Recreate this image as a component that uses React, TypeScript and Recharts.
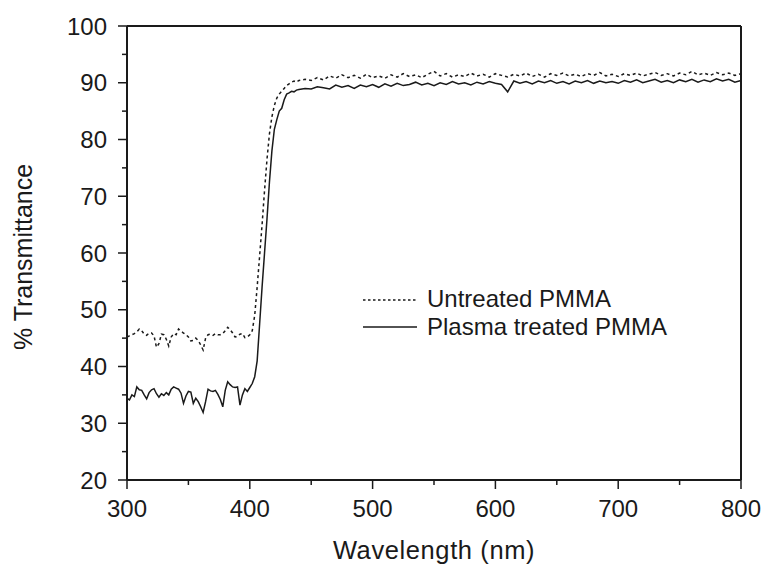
import { LineChart, Line, XAxis, YAxis, ReferenceLine, Label } from "recharts";

// wavelength grid (nm): 2 nm steps through the edge, 5 nm steps after
const wavelengths = [
  300, 302, 304, 306, 308, 310, 312, 314, 316, 318,
  320, 322, 324, 326, 328, 330, 332, 334, 336, 338,
  340, 342, 344, 346, 348, 350, 352, 354, 356, 358,
  360, 362, 364, 366, 368, 370, 372, 374, 376, 378,
  380, 382, 384, 386, 388, 390, 392, 394, 396, 398,
  400, 402, 404, 406, 408, 410, 412, 414, 416, 418,
  420, 422, 424, 426, 428, 430, 432, 434, 436, 438,
  440,
  445, 450, 455, 460, 465, 470, 475, 480, 485, 490,
  495, 500, 505, 510, 515, 520, 525, 530, 535, 540,
  545, 550, 555, 560, 565, 570, 575, 580, 585, 590,
  595, 600, 605, 610, 615, 620, 625, 630, 635, 640,
  645, 650, 655, 660, 665, 670, 675, 680, 685, 690,
  695, 700, 705, 710, 715, 720, 725, 730, 735, 740,
  745, 750, 755, 760, 765, 770, 775, 780, 785, 790,
  795, 800,
];

const untreated = [
  45.2, 45.4, 45.6, 45.8, 46.1, 46.6, 46.3, 45.7, 45.5, 45.9,
  45.9, 45.4, 43.4, 44.0, 45.7, 45.6, 44.8, 43.6, 45.2, 45.8,
  45.6, 46.6, 46.2, 45.9, 45.6, 45.2, 44.5, 44.6, 45.0, 44.6,
  43.8, 42.9, 45.0, 45.6, 45.7, 45.5, 45.8, 45.6, 45.6, 45.8,
  46.3, 46.9, 46.5, 45.9, 45.2, 45.3, 45.7, 45.8, 45.1, 45.2,
  45.6, 46.3, 49.0, 54.0, 59.5, 65.0, 71.0, 76.5, 81.0, 84.0,
  86.0, 87.3, 88.0, 88.5, 89.0, 89.5, 89.8, 90.1, 90.3, 90.1,
  90.4,
  90.6, 90.4, 90.9, 90.5, 91.2, 90.8, 91.4, 90.9, 91.3, 90.8,
  91.5, 90.9, 91.2, 90.8, 91.4, 91.0, 91.6, 91.1, 91.4, 90.9,
  91.5, 92.0, 91.2, 91.6, 91.0, 91.4, 91.1, 91.7, 91.2, 91.5,
  91.0, 91.6, 91.3, 91.0, 91.5, 91.2, 91.7, 91.1, 91.5, 91.0,
  91.6, 91.3, 91.7, 91.2, 91.5, 91.1, 91.6, 91.3, 91.8, 91.2,
  91.5, 91.1, 91.6, 91.3, 91.7, 91.2, 91.5, 91.8, 91.3, 91.6,
  91.2, 91.7, 91.4, 92.0, 91.4, 91.7, 91.3, 91.8, 91.4, 91.7,
  91.3, 91.6,
];

const plasma = [
  34.4, 34.1, 35.0, 34.7, 36.4, 35.9, 35.8, 35.0, 34.3, 35.4,
  35.9, 36.1, 35.2, 34.6, 35.2, 34.9, 35.4, 35.0, 36.0, 36.4,
  36.2, 36.0, 35.3, 33.5, 34.8, 35.6, 35.5, 33.5, 34.4, 33.8,
  32.9, 31.9, 33.8, 36.0, 35.7, 35.6, 35.8, 35.1, 34.2, 32.9,
  35.8, 37.3, 36.8, 36.4, 36.3, 36.4, 33.2, 35.0, 36.1, 35.6,
  36.3, 37.0, 38.2, 41.0, 47.5, 54.0, 60.0, 66.0, 72.5, 78.0,
  81.8, 83.5, 85.0, 85.5, 87.0, 88.0, 88.2, 88.5, 88.4, 88.7,
  88.8,
  89.0, 88.9, 89.3, 89.1, 88.9, 89.6, 89.2, 89.5, 89.0, 89.6,
  89.3, 89.7, 89.2, 89.8, 89.4, 89.9, 89.5, 89.7, 90.1, 89.6,
  89.9, 89.5, 90.0, 89.7, 90.2, 89.8, 90.0, 89.6, 90.1, 89.8,
  90.2, 89.9, 89.7, 88.4, 90.3, 89.9, 90.2, 89.8, 90.3, 90.0,
  90.4, 89.9, 90.2, 89.8, 90.3, 90.0, 90.4, 89.9, 90.3, 90.0,
  90.2, 89.9, 90.4, 90.1, 90.5, 90.0, 90.3, 90.6, 90.1, 90.4,
  90.0, 90.5, 90.2, 90.6, 90.1, 90.5, 90.2, 90.7, 90.3, 90.6,
  90.1, 90.4,
];

const xTicks = [300, 350, 400, 450, 500, 550, 600, 650, 700, 750, 800];
const yTicks = [20, 25, 30, 35, 40, 45, 50, 55, 60, 65, 70, 75, 80, 85, 90, 95, 100];

const seriesNames = ["Untreated PMMA", "Plasma treated PMMA"];

const data = wavelengths.map((wl, i) => ({
  wl,
  untreated: untreated[i],
  plasma: plasma[i],
}));

const FONT = "'Liberation Sans', Arial, sans-serif";
const INK = "#1a1a1a";

function XTick(props: any) {
  const { x, y, payload } = props;
  const major = payload.value % 100 === 0;
  return (
    <g>
      <line x1={x} y1={y} x2={x} y2={y + (major ? 9 : 5)} stroke={INK} strokeWidth={1.5} />
      {major && (
        <text x={x} y={y + 37} textAnchor="middle" fontSize={24} fontFamily={FONT} fill={INK}>
          {payload.value}
        </text>
      )}
    </g>
  );
}

function YTick(props: any) {
  const { x, y, payload } = props;
  const major = payload.value % 10 === 0;
  return (
    <g>
      <line x1={x - (major ? 9 : 5)} y1={y} x2={x} y2={y} stroke={INK} strokeWidth={1.5} />
      {major && (
        <text x={x - 20} y={y + 8.5} textAnchor="end" fontSize={24} fontFamily={FONT} fill={INK}>
          {payload.value}
        </text>
      )}
    </g>
  );
}

// legend drawn as an overlay so it does not take space from the plot
function LegendBox() {
  return (
    <svg width={320} height={60} style={{ position: "absolute", left: 360, top: 283 }}>
      <line x1={3} y1={17} x2={57} y2={17} stroke={INK} strokeWidth={1.5} strokeDasharray="2.5 2.5" />
      <text x={67} y={23.5} fontSize={24} fontFamily={FONT} fill={INK}>{seriesNames[0]}</text>
      <line x1={3} y1={44} x2={57} y2={44} stroke={INK} strokeWidth={1.5} />
      <text x={67} y={51.5} fontSize={24} fontFamily={FONT} fill={INK}>{seriesNames[1]}</text>
    </svg>
  );
}

export default function App() {
  return (
    <div style={{ position: "absolute", left: 0, top: 0, width: 764, height: 565, background: "#fff" }}>
      <LineChart
        width={764}
        height={565}
        data={data}
        margin={{ top: 26, right: 23, bottom: 0, left: 67 }}
      >
        <XAxis
          dataKey="wl"
          type="number"
          domain={[300, 800]}
          ticks={xTicks}
          interval={0}
          height={85}
          tickSize={0}
          tickMargin={0}
          tick={<XTick />}
          axisLine={{ stroke: INK, strokeWidth: 2 }}
        >
          <Label
            content={(p: any) => {
              const vb = p.viewBox;
              return (
                <text x={vb.x + vb.width / 2} y={vb.y + 79} textAnchor="middle" fontSize={25.5} letterSpacing={0.6} fontFamily={FONT} fill={INK}>
                  Wavelength (nm)
                </text>
              );
            }}
          />
        </XAxis>
        <YAxis
          type="number"
          domain={[20, 100]}
          ticks={yTicks}
          interval={0}
          width={60}
          tickSize={0}
          tickMargin={0}
          tick={<YTick />}
          axisLine={{ stroke: INK, strokeWidth: 2 }}
        >
          <Label
            content={(p: any) => {
              const vb = p.viewBox;
              const cy = vb.y + vb.height / 2 + 4;
              return (
                <text x={32} y={cy} transform={`rotate(-90 32 ${cy})`} textAnchor="middle" fontSize={25} fontFamily={FONT} fill={INK}>
                  % Transmittance
                </text>
              );
            }}
          />
        </YAxis>
        <ReferenceLine y={100} stroke={INK} strokeWidth={2} />
        <ReferenceLine x={800} stroke={INK} strokeWidth={2} />
        <Line
          type="linear"
          dataKey="untreated"
          name={seriesNames[0]}
          stroke={INK}
          strokeWidth={1.5}
          strokeDasharray="3 3"
          dot={false}
          isAnimationActive={false}
        />
        <Line
          type="linear"
          dataKey="plasma"
          name={seriesNames[1]}
          stroke={INK}
          strokeWidth={1.5}
          dot={false}
          isAnimationActive={false}
        />
      </LineChart>
      <LegendBox />
    </div>
  );
}
